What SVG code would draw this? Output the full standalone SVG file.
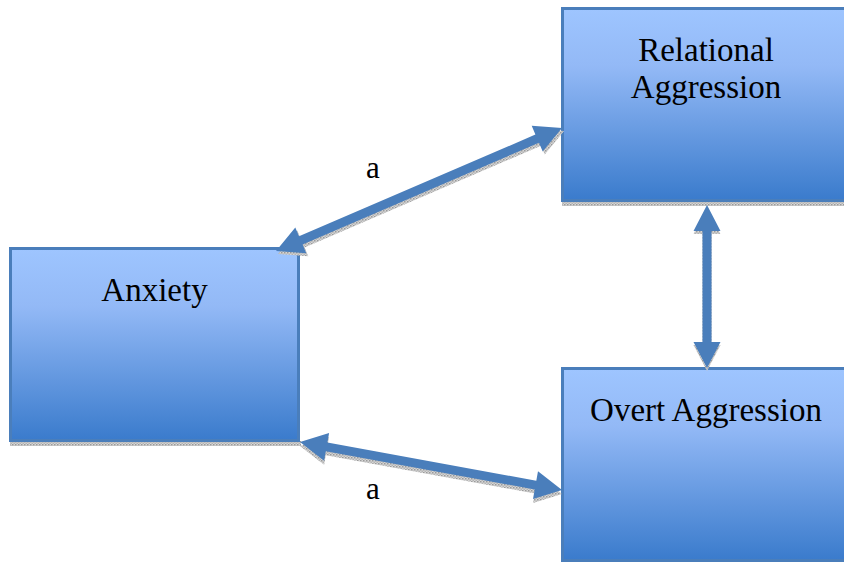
<svg xmlns="http://www.w3.org/2000/svg" width="844" height="565" viewBox="0 0 844 565">
  <defs>
    <linearGradient id="boxGrad" x1="0" y1="0" x2="0" y2="1">
      <stop offset="0" stop-color="#9EC5FF"/>
      <stop offset="0.3" stop-color="#93B9F6"/>
      <stop offset="1" stop-color="#3A7BCC"/>
    </linearGradient>
    <pattern id="shadowPat" width="3" height="3" patternUnits="userSpaceOnUse">
      <rect width="3" height="3" fill="#d6d6d6"/>
      <rect width="1.5" height="1.5" fill="#9a9a9a"/>
      <rect x="1.5" y="1.5" width="1.5" height="1.5" fill="#b4b4b4"/>
    </pattern>
    <style>
      .box { fill: url(#boxGrad); stroke: #4A7EBB; stroke-width: 3; }
      .boxShadow { fill: url(#shadowPat); }
      .arrow { fill: #4A7EBB; }
      .arrowShadow { fill: url(#shadowPat); }
      .label { font-family: "Liberation Serif", "DejaVu Serif", serif; font-size: 33px; fill: #000; text-anchor: middle; }
      .edgeLabel { font-family: "Liberation Serif", "DejaVu Serif", serif; font-size: 31px; fill: #000; text-anchor: middle; }
    </style>
  </defs>
  <rect width="844" height="565" fill="#ffffff"/>

  <g id="node-anxiety">
    <rect class="boxShadow" x="10" y="441" width="291" height="5"/>
    <rect class="box" x="10.5" y="248.5" width="288" height="192"/>
    <text class="label" x="154.5" y="301">Anxiety</text>
  </g>

  <g id="node-relational">
    <rect class="boxShadow" x="562" y="201" width="291" height="5"/>
    <rect class="box" x="562.5" y="8.5" width="288" height="192"/>
    <text class="label" x="706" y="61">Relational</text>
    <text class="label" x="706" y="98">Aggression</text>
  </g>

  <g id="node-overt">
    <rect class="box" x="562.5" y="368.5" width="288" height="192"/>
    <text class="label" x="706" y="421">Overt Aggression</text>
  </g>

  <g id="connectors">
    <g id="edge-anxiety-relational">
      <polygon class="arrowShadow" transform="translate(2,3)" points="276,251 306.3,253.2 302.6,244.4 539.0,142.8 542.7,151.6 562,128 531.7,125.8 535.4,134.6 299.0,236.2 295.3,227.4"/>
      <polygon class="arrow" points="276,251 306.3,253.2 302.6,244.4 539.0,142.8 542.7,151.6 562,128 531.7,125.8 535.4,134.6 299.0,236.2 295.3,227.4"/>
    </g>
    <g id="edge-anxiety-overt">
      <polygon class="arrowShadow" transform="translate(0,4)" points="300,442 324.1,460.7 325.8,451.3 534.7,489.5 533.0,498.9 562,490 538.0,471.3 536.3,480.7 327.4,442.5 329.1,433.1"/>
      <polygon class="arrow" points="300,442 324.1,460.7 325.8,451.3 534.7,489.5 533.0,498.9 562,490 538.0,471.3 536.3,480.7 327.4,442.5 329.1,433.1"/>
    </g>
    <g id="edge-relational-overt">
      <polygon class="arrowShadow" transform="translate(0,3)" points="707,205 720.5,231 711.5,231 711.5,342 720.5,342 707,368 693.5,342 702.5,342 702.5,231 693.5,231"/>
      <polygon class="arrow" points="707,205 720.5,231 711.5,231 711.5,342 720.5,342 707,368 693.5,342 702.5,342 702.5,231 693.5,231"/>
    </g>
    <text class="edgeLabel" x="373" y="178">a</text>
    <text class="edgeLabel" x="373" y="499">a</text>
  </g>
</svg>
